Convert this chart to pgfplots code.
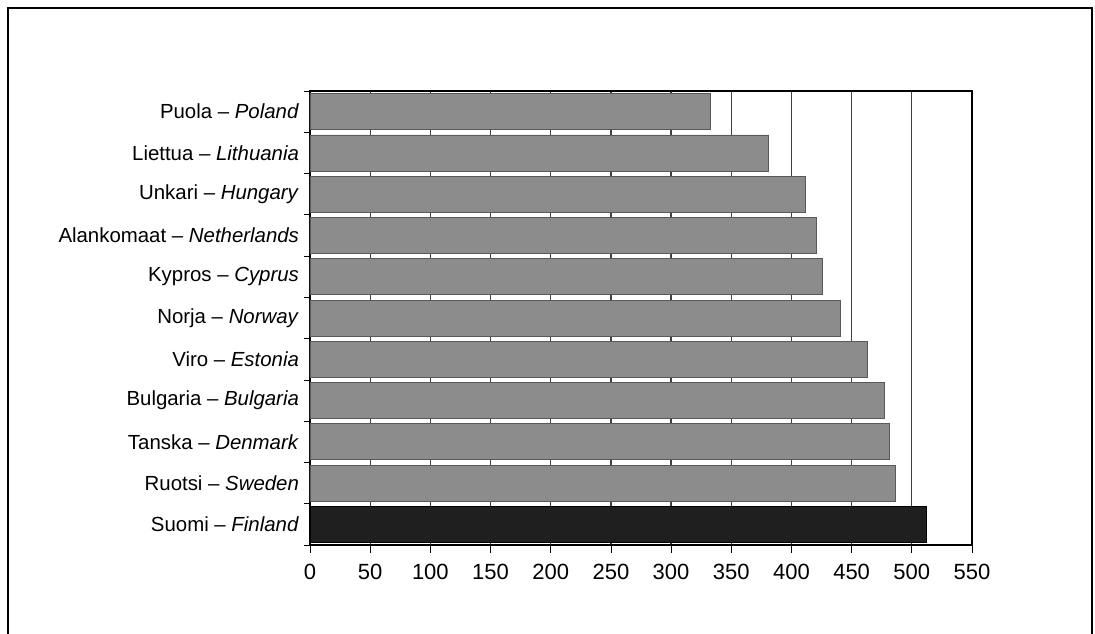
\documentclass[border=0pt]{standalone}
\usepackage{fontspec}
\setmainfont{Liberation Sans}
\usepackage{pgfplots}
\pgfplotsset{compat=1.18}
\begin{document}
\begin{tikzpicture}
\path[use as bounding box] (-155pt,-44pt) rectangle (392.5pt,272.5pt);
\draw[line width=0.9pt] (-151pt,-50pt) -- (-151pt,268.5pt) -- (391pt,268.5pt) -- (391pt,-50pt);
\begin{axis}[
    at={(0pt,0pt)}, anchor=south west,
    scale only axis, width=331pt, height=227pt,
    xbar, bar width=18pt, bar shift=0pt,
    xmin=0, xmax=550, xtick={0,50,...,550},
    ymin=-0.5, ymax=10.5,
    ytick={0,...,10},
    yticklabels={Suomi -- \textit{Finland}, Ruotsi -- \textit{Sweden},
      Tanska -- \textit{Denmark}, Bulgaria -- \textit{Bulgaria},
      Viro -- \textit{Estonia}, Norja -- \textit{Norway},
      Kypros -- \textit{Cyprus}, Alankomaat -- \textit{Netherlands},
      Unkari -- \textit{Hungary}, Liettua -- \textit{Lithuania},
      Puola -- \textit{Poland}},
    minor ytick={-0.5,0.5,...,10.5},
    xtick pos=bottom, ytick pos=left,
    tick align=outside,
    major tick length=4pt, minor tick length=3pt,
    ytick style={draw=none},
    minor y tick style={draw=black, thin},
    xtick style={black, thin},
    xmajorgrids, major x grid style={black!75, line width=0.6pt},
    axis line style={black, line width=0.8pt},
    xticklabel style={font=\fontsize{11}{13}\selectfont, yshift=-2pt},
    yticklabel style={font=\fontsize{10.2}{12}\selectfont, xshift=2pt},
    /pgf/number format/assume math mode=true,
]
\addplot[fill=black!45, draw=black!65, line width=0.4pt] coordinates {
(486,1) (481,2) (477,3) (463,4) (441,5)
(426,6) (421,7) (412,8) (381,9) (333,10)
};
\addplot[fill=black!88, draw=black, line width=0.4pt] coordinates {
(512,0)
};
\end{axis}
\end{tikzpicture}
\end{document}
